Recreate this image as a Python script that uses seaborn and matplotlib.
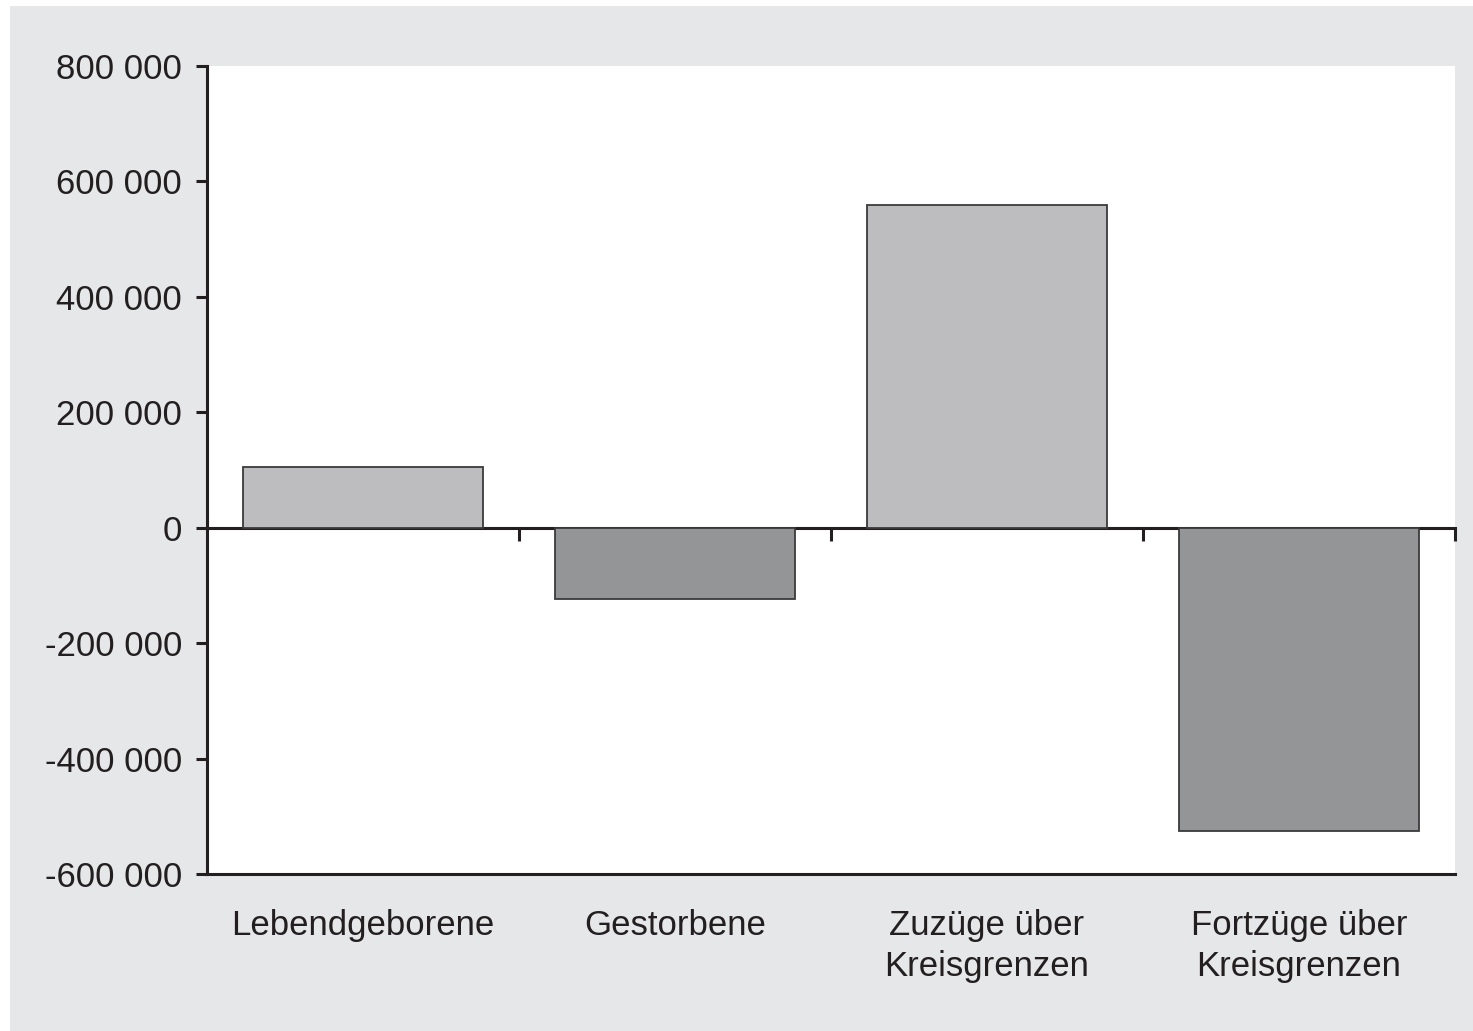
import numpy as np
import pandas as pd
import matplotlib
matplotlib.use("Agg")
import matplotlib.pyplot as plt
from matplotlib.patches import Rectangle
from matplotlib.ticker import FuncFormatter
import seaborn as sns

# data
kategorien = ["Lebendgeborene", "Gestorbene", "Zuzüge über\nKreisgrenzen", "Fortzüge über\nKreisgrenzen"]
werte = [106000, -123000, 560000, -526000]
farben = ["#bcbdc0", "#939598", "#bcbdc0", "#939598"]
y_ticks = [-600000, -400000, -200000, 0, 200000, 400000, 600000, 800000]

df = pd.DataFrame({"Kategorie": kategorien, "Wert": werte})

sns.set_style("white")
plt.rcParams["font.family"] = ["Liberation Sans", "DejaVu Sans"]

fig = plt.figure(figsize=(14.73, 10.31), dpi=100)
fig.patch.set_facecolor("white")
# grauer Hintergrund
fig.patches.append(Rectangle((10 / 1473, 0), 1, 1 - 6 / 1031,
                             transform=fig.transFigure, facecolor="#e6e7e8",
                             edgecolor="none", zorder=-10))

ax = fig.add_axes([207 / 1473, 1 - 874 / 1031, 1248 / 1473, 808 / 1031])
ax.set_facecolor("white")

sns.barplot(data=df, x="Kategorie", y="Wert", hue="Kategorie",
            palette=dict(zip(kategorien, farben)), legend=False,
            width=0.77, edgecolor="#3a3a3a", linewidth=1.3, ax=ax, zorder=2)

ax.set_xlim(-0.5, len(kategorien) - 0.5)
ax.set_ylim(-600000, 800000)
ax.set_yticks(y_ticks)
ax.yaxis.set_major_formatter(FuncFormatter(lambda v, p: f"{int(v):,}".replace(",", " ")))

for s in ["top", "right"]:
    ax.spines[s].set_visible(False)
for s in ["left", "bottom"]:
    ax.spines[s].set_color("#231f20")
    ax.spines[s].set_linewidth(2.2)

ax.tick_params(axis="y", direction="out", length=8, width=2.2, color="#231f20",
               labelsize=25, labelcolor="#231f20", pad=10, left=True)
ax.tick_params(axis="x", length=0, labelsize=25, labelcolor="#231f20", pad=25)
for lbl in ax.get_xticklabels():
    lbl.set_linespacing(1.3)
ax.set_xlabel("")
ax.set_ylabel("")

# Nulllinie mit Trennstrichen zwischen den Kategorien
null_pos = (0 - y_ticks[0]) / (y_ticks[-1] - y_ticks[0])
sek = ax.secondary_xaxis(null_pos)
sek.set_xticks(np.arange(len(kategorien)) + 0.5)
sek.set_xticklabels([])
sek.spines["bottom"].set_linewidth(2.2)
sek.spines["bottom"].set_color("#231f20")
sek.tick_params(direction="out", length=9, width=2.2, color="#231f20")

fig.savefig("out.png", dpi=100)
